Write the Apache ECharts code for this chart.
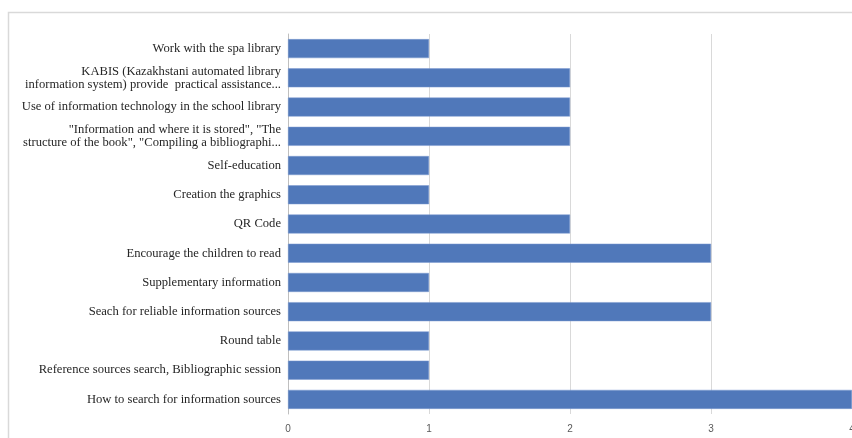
<!DOCTYPE html>
<html><head><meta charset="utf-8">
<script src="https://cdn.jsdelivr.net/npm/echarts@6/dist/echarts.min.js"></script>
<style>html,body{margin:0;padding:0;background:#fff;overflow:hidden}#c{width:852px;height:438px}</style>
</head><body><div id="c"></div>
<script>
const categories = [
  "Work with the spa library",
  "KABIS (Kazakhstani automated library\ninformation system) provide  practical assistance...",
  "Use of information technology in the school library",
  "\"Information and where it is stored\", \"The\nstructure of the book\", \"Compiling a bibliographi...",
  "Self-education",
  "Creation the graphics",
  "QR Code",
  "Encourage the children to read",
  "Supplementary information",
  "Seach for reliable information sources",
  "Round table",
  "Reference sources search, Bibliographic session",
  "How to search for information sources"
];
const values = [1, 2, 2, 2, 1, 1, 2, 3, 1, 3, 1, 1, 4];
const xTicks = [0, 1, 2, 3, 4];

const chart = echarts.init(document.getElementById('c'), null, {renderer: 'canvas'});
chart.setOption({
  animation: false,
  backgroundColor: '#fff',
  graphic: [{
    type: 'rect', silent: true, z: -1,
    shape: {x: 8.5, y: 12.5, width: 900, height: 500},
    style: {fill: 'none', stroke: '#d9d9d9', lineWidth: 1.5}
  }],
  grid: {left: 288, right: 0, top: 34, bottom: 24, containLabel: false, outerBoundsMode: 'none'},
  xAxis: {
    type: 'value', min: 0, max: 4, interval: 1,
    axisLine: {show: false}, axisTick: {show: false},
    splitLine: {lineStyle: {color: '#d9d9d9', width: 1}},
    axisLabel: {
      color: '#595959', fontFamily: 'Liberation Sans', fontSize: 10, margin: 10,
      formatter: v => String(xTicks[v] !== undefined ? xTicks[v] : v)
    }
  },
  yAxis: {
    type: 'category', data: categories, inverse: true,
    axisLine: {show: true, lineStyle: {color: '#bfbfbf', width: 1}},
    axisTick: {show: false},
    axisLabel: {
      color: '#262626', fontFamily: 'Liberation Serif', fontSize: 12.6, margin: 7,
      lineHeight: 13, align: 'right'
    }
  },
  series: [{
    type: 'bar', data: values, barCategoryGap: '35%',
    itemStyle: {color: '#5078BA', borderColor: '#7d9bd0', borderWidth: 0.5}
  }]
});
</script></body></html>
